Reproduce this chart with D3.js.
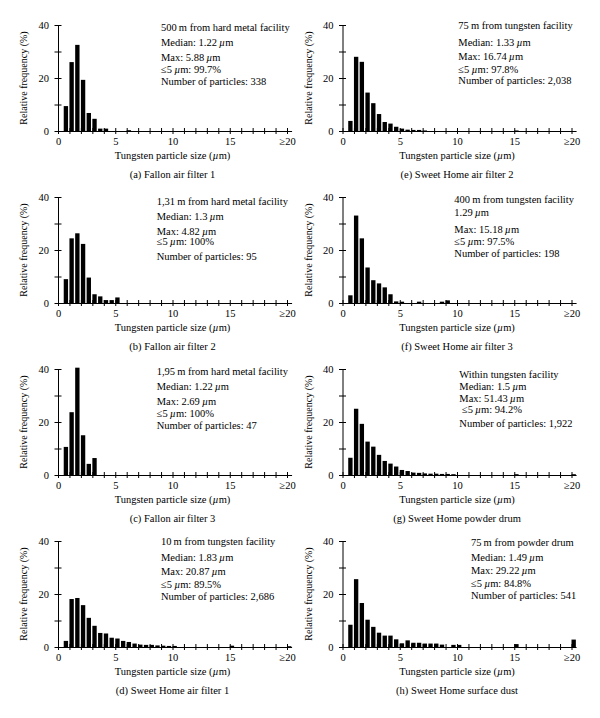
<!DOCTYPE html>
<html><head><meta charset="utf-8">
<script src="https://cdn.jsdelivr.net/npm/d3@7"></script>
<style>
body{margin:0;background:#fff}
svg text{font-family:"Liberation Serif","Times New Roman",serif;fill:#000}
</style>
</head><body>
<svg id="chart" width="600" height="718"></svg>
<script>
// ---------- DATA ----------
// bin upper edges (µm); last bin is "≥20"
const bins = [0.5,1,1.5,2,2.5,3,3.5,4,4.5,5,5.5,6,6.5,7,7.5,8,8.5,9,9.5,10,
              10.5,11,11.5,12,12.5,13,13.5,14,14.5,15,15.5,16,16.5,17,17.5,18,18.5,19,19.5,20];
const xTickValues = [0,1,2,3,4,5,6,7,8,9,10,11,12,13,14,15,16,17,18,19,20];
const xTickLabels = {0:"0",5:"5",10:"10",15:"15",20:"\u226520"};
const yTickValues = [0,10,20,30,40];
const yTickLabels = {0:"0",20:"20",40:"40"};

const fallon1 = [9.4,26.0,32.5,19.3,6.8,4.6,0.9,0.9,0,0, 0,0.3,0,0,0,0,0,0,0,0, 0,0,0,0,0,0,0,0,0,0, 0,0,0,0,0,0,0,0,0,0];
const fallon2 = [9.0,24.4,26.3,22.3,9.6,3.3,2.5,1.1,1.1,2.1, 0,0,0,0,0,0,0,0,0,0, 0,0,0,0,0,0,0,0,0,0, 0,0,0,0,0,0,0,0,0,0];
const fallon3 = [10.6,23.7,40.5,15.0,4.2,6.4,0,0,0,0, 0,0,0,0,0,0,0,0,0,0, 0,0,0,0,0,0,0,0,0,0, 0,0,0,0,0,0,0,0,0,0];
const sweet1  = [2.3,18.1,18.5,15.8,11.0,8.0,5.3,5.1,3.5,3.2, 2.3,1.9,1.3,0.9,0.8,0.8,0.6,0.5,0.4,0.4, 0,0,0,0,0,0,0,0,0,0.5, 0,0,0,0,0,0,0,0,0,0.3];
const sweet2  = [3.8,28.0,26.1,14.5,10.5,6.4,3.4,2.8,1.6,0.9, 0.5,0.4,0.4,0.2,0,0,0,0,0,0, 0,0,0,0,0,0,0,0,0,0.2, 0,0,0,0,0,0,0,0,0,0];
const sweet3  = [2.9,33.0,24.4,13.4,8.6,7.4,5.9,3.3,0.6,0.5, 0,0,0.5,0,0,0,0.5,1.0,0,0, 0,0,0,0,0,0,0,0,0,0, 0,0,0,0,0,0,0,0,0,0];
const drum    = [6.5,25.0,19.3,12.6,10.7,7.6,5.3,4.3,3.2,1.9, 1.5,0.9,0.8,0.6,0.5,0.5,0.4,0.4,0.3,0, 0,0,0,0,0,0,0,0,0,0.3, 0,0,0,0,0,0,0,0,0,0.3];
const dust    = [8.4,25.6,16.6,10.3,7.6,5.4,4.3,4.3,2.9,1.4, 2.5,1.6,1.6,1.3,1.3,1.3,0.9,0,0.8,0.8, 0,0,0,0,0,0,0,0,0,1.1, 0,0,0,0,0,0,0,0,0,2.8];

const notes = {
  a:["500\u2009m from hard metal facility","Median: 1.22\u2009\u00b5m","Max: 5.88\u2009\u00b5m","\u22645\u2009\u00b5m: 99.7%","Number of particles: 338"],
  b:["1,31\u2009m from hard metal facility","Median: 1.3\u2009\u00b5m","Max: 4.82\u2009\u00b5m","\u22645\u2009\u00b5m: 100%","Number of particles: 95"],
  c:["1,95\u2009m from hard metal facility","Median: 1.22\u2009\u00b5m","Max: 2.69\u2009\u00b5m","\u22645\u2009\u00b5m: 100%","Number of particles: 47"],
  d:["10\u2009m from tungsten facility","Median: 1.83\u2009\u00b5m","Max: 20.87\u2009\u00b5m","\u22645\u2009\u00b5m: 89.5%","Number of particles: 2,686"],
  e:["75\u2009m from tungsten facility","Median: 1.33\u2009\u00b5m","Max: 16.74\u2009\u00b5m","\u22645\u2009\u00b5m: 97.8%","Number of particles: 2,038"],
  f:["400\u2009m from tungsten facility","1.29\u2009\u00b5m","Max: 15.18\u2009\u00b5m","\u22645\u2009\u00b5m: 97.5%","Number of particles: 198"],
  g:["Within tungsten facility","Median: 1.5\u2009\u00b5m","Max: 51.43\u2009\u00b5m","\u00a0\u22645\u2009\u00b5m: 94.2%","Number of particles: 1,922"],
  h:["75\u2009m from powder drum","Median: 1.49\u2009\u00b5m","Max: 29.22\u2009\u00b5m","\u22645\u2009\u00b5m: 84.8%","Number of particles: 541"]
};
const captions = {
  a:"(a) Fallon air filter 1", b:"(b) Fallon air filter 2", c:"(c) Fallon air filter 3",
  d:"(d) Sweet Home air filter 1", e:"(e) Sweet Home air filter 2", f:"(f) Sweet Home air filter 3",
  g:"(g) Sweet Home powder drum", h:"(h) Sweet Home surface dust"
};
const series = {a:fallon1,b:fallon2,c:fallon3,d:sweet1,e:sweet2,f:sweet3,g:drum,h:dust};
const xTitle = "Tungsten particle size (\u00b5m)";
const yTitle = "Relative frequency (%)";

// ---------- LAYOUT ----------
const colX = [58, 342.5];
const rowY = [25, 197, 369, 541];
const plotW = 229, plotH = 106;
const panels = [
  {k:"a",c:0,r:0,tx:161,  offs:[5.7,20.7,35.7,47.7,60]},
  {k:"b",c:0,r:1,tx:156.7,offs:[7.7,22.7,37.7,47.7,62.7]},
  {k:"c",c:0,r:2,tx:156.7,offs:[6,21,36,47.7,60]},
  {k:"d",c:0,r:3,tx:161,  offs:[4.3,20.3,34.3,47,59.3]},
  {k:"e",c:1,r:0,tx:458.3,offs:[4.3,21,35,47.7,59.3]},
  {k:"f",c:1,r:1,tx:454.3,offs:[6,19.4,36,47.7,60]},
  {k:"g",c:1,r:2,tx:459.3,offs:[9.3,21,32.7,44.3,57.7]},
  {k:"h",c:1,r:3,tx:471,  offs:[5,20.3,32.6,46,58.3]}
];
const FS = 10.5, FSY = 10;

const svg = d3.select("#chart");
svg.append("rect").attr("width",600).attr("height",718).attr("fill","#fff");

function addRich(sel, str){
  const parts = str.split("\u00b5");
  parts.forEach((p,i)=>{
    if(i>0) sel.append("tspan").attr("font-style","italic").text("\u00b5");
    if(p.length) sel.append("tspan").text(p);
  });
}

panels.forEach(P=>{
  const x0 = colX[P.c], y40 = rowY[P.r], y0 = y40+plotH;
  const x = d3.scaleLinear().domain([0,20.4]).range([x0, x0+plotW*20.4/20]);
  const y = d3.scaleLinear().domain([0,40]).range([y0, y40]);
  const g = svg.append("g");
  const data = series[P.k];

  // bars
  g.selectAll("rect.bar").data(bins.map((b,i)=>({b, v:data[i]})).filter(d=>d.v>0))
    .enter().append("rect").attr("class","bar")
    .attr("x", d=>x(d.b)).attr("width", d=>x(d.b+0.38)-x(d.b))
    .attr("y", d=>y(d.v)).attr("height", d=>y(0)-y(d.v))
    .attr("fill","#000");

  // x axis
  const xa = g.append("g").attr("transform",`translate(0,${y0})`)
    .call(d3.axisBottom(x).tickValues(xTickValues).tickSizeInner(3).tickSizeOuter(0).tickPadding(4)
      .tickFormat(d=>xTickLabels[d]||""));
  xa.attr("font-family",null).attr("font-size",null);
  xa.selectAll(".tick line").attr("y1",-3).attr("y2",3).attr("stroke","#000");
  xa.select(".domain").attr("stroke","#000");
  xa.selectAll("text").attr("font-size",FS).attr("fill","#000");

  // y axis
  const ya = g.append("g").attr("transform",`translate(${x0},0)`)
    .call(d3.axisLeft(y).tickValues(yTickValues).tickSizeInner(3.5).tickSizeOuter(0).tickPadding(5.5)
      .tickFormat(d=>yTickLabels[d]||""));
  ya.attr("font-family",null).attr("font-size",null);
  ya.selectAll(".tick line").attr("x1",-3.5).attr("x2",3.5).attr("stroke","#000");
  ya.select(".domain").attr("stroke","#000");
  ya.selectAll("text").attr("font-size",FS).attr("fill","#000");

  // titles
  const xt = g.append("text").attr("x", x(10)).attr("y", y0+28).attr("text-anchor","middle").attr("font-size",FS);
  addRich(xt, xTitle);
  g.append("text").attr("transform",`translate(${x0-31},${(y0+y40)/2}) rotate(-90)`)
    .attr("text-anchor","middle").attr("font-size",FSY).text(yTitle);
  g.append("text").attr("x", x(10)).attr("y", y0+46.7).attr("text-anchor","middle").attr("font-size",FS)
    .text(captions[P.k]);

  // annotations
  notes[P.k].forEach((line,i)=>{
    const t = g.append("text").attr("x",P.tx).attr("y",y40+P.offs[i]).attr("font-size",FS)
      .attr("xml:space","preserve");
    addRich(t,line);
  });
});
</script>
</body></html>
